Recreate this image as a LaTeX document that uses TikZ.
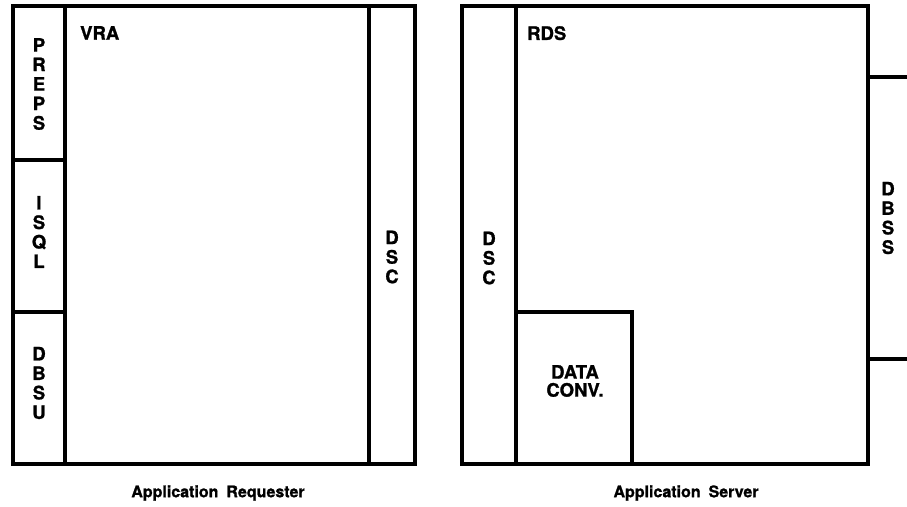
\documentclass[tikz,border=0pt]{standalone}
\usepackage{fontspec}
\setmainfont{TeX Gyre Heros}[BoldFeatures={FakeBold=1.2}]
\begin{document}
\begin{tikzpicture}[x=1pt,y=-1pt,
  frame/.style={draw, line width=3.2pt, rectangle, inner sep=0pt, outer sep=0pt},
  edge/.style={draw, line width=3.2pt},
  lbl/.style={font=\bfseries\fontsize{18.5}{19.5}\selectfont, align=center, inner sep=0pt},
  caption/.style={font=\bfseries\fontsize{16}{18}\selectfont, inner sep=0pt},
]
\useasboundingbox (0,0) rectangle (907,506);

% ---- Application Requester ----
\node[frame, minimum width=402pt, minimum height=458pt] (req) at (214,235) {};
\node[frame, minimum width=52pt, minimum height=154pt] (preps) at (39,83) {};
\node[frame, minimum width=52pt, minimum height=152pt] (isql) at (39,236) {};
\node[frame, minimum width=52pt, minimum height=152pt] (dbsu) at (39,388) {};
\node[frame, minimum width=46pt, minimum height=458pt] (dscl) at (392,235) {};

\node[lbl] (prepst) at (39,84) {P\\R\\E\\P\\S};
\node[lbl] (isqlt) at (39,232) {I\\S\\Q\\L};
\node[lbl] (dbsut) at (39,383) {D\\B\\S\\U};
\node[lbl] (dsclt) at (392,257) {D\\S\\C};
\node[lbl, anchor=north west] (vra) at (80,26) {VRA};

\node[caption] (reqcap) at (218,493) {Application\hspace{0.5em}Requester};

% ---- Application Server ----
\node[frame, minimum width=406pt, minimum height=458pt] (srv) at (665,235) {};
\node[frame, minimum width=54pt, minimum height=458pt] (dscr) at (489,235) {};
\node[frame, minimum width=116pt, minimum height=152pt] (conv) at (574,388) {};
\coordinate (dbsstop) at (907,77);
\coordinate (dbssbot) at (907,359);
\draw[edge] (srv.east |- dbsstop) -- (dbsstop);
\draw[edge] (srv.east |- dbssbot) -- (dbssbot);

\node[lbl] (dscrt) at (489,258) {D\\S\\C};
\node[lbl] (dbsst) at (888,218) {D\\B\\S\\S};
\node[lbl, font=\bfseries\fontsize{18.5}{18}\selectfont] (convt) at (575,381) {DATA\\CONV.};
\node[lbl, anchor=north west] (rds) at (527,26) {RDS};

\node[caption] (srvcap) at (686,493) {Application\hspace{0.5em}Server};
\end{tikzpicture}
\end{document}
